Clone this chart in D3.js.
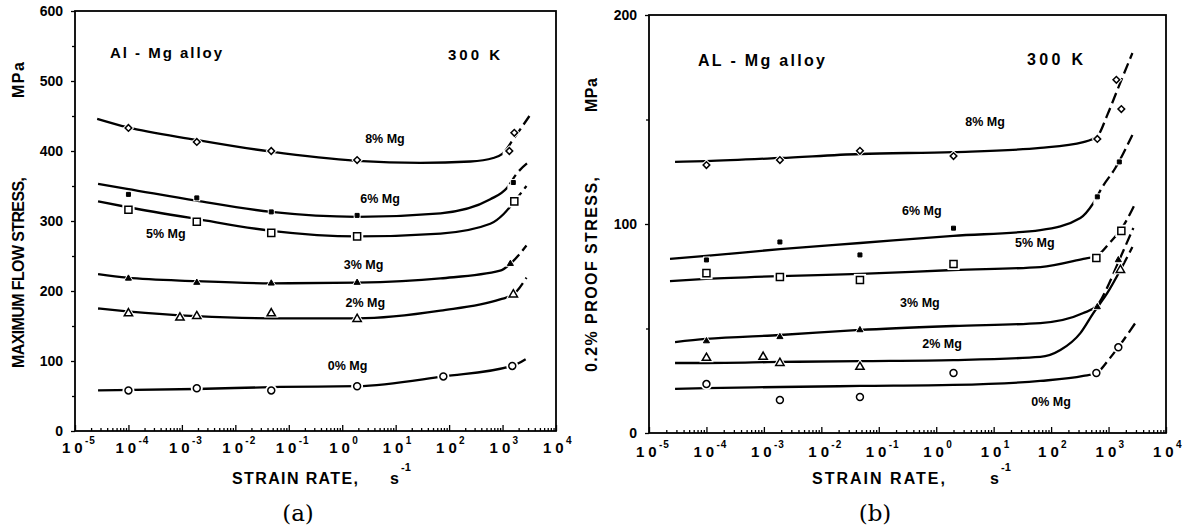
<!DOCTYPE html>
<html><head><meta charset="utf-8">
<script src="https://cdn.jsdelivr.net/npm/d3@7"></script>
<style>
body{margin:0;background:#fff;}
text{font-family:"Liberation Sans",Arial,Helvetica,sans-serif;font-weight:bold;fill:#000;}
.serif{font-family:"DejaVu Serif","Liberation Serif",serif;font-weight:normal;}
</style></head>
<body>
<script>
// ---------- DATA ----------
const decadeExponents = [-5,-4,-3,-2,-1,0,1,2,3,4];
const stressTicksA = [0,100,200,300,400,500,600];
const stressTicksB = [0,100,200];
const seriesNames = ["8% Mg","6% Mg","5% Mg","3% Mg","2% Mg","0% Mg"];

// Panel (a): maximum flow stress (MPa) vs strain rate (1/s)
const aCurve8 = [[2.6e-5,446],[9.4e-5,434],[1.85e-3,416],[4.7e-2,399],[1.9,386],[29,383],[250,385],[670,390],[990,396],[1660,419],[3180,450]];
const aCurve6 = [[2.7e-5,353],[9.4e-5,346],[1.85e-3,329],[4.7e-2,313],[1.9,306],[69,311],[590,331],[1230,348],[1810,367],[3180,385]];
const aCurve5 = [[2.7e-5,328],[9.4e-5,320],[1.85e-3,303],[4.7e-2,286],[1.9,278],[69,282],[590,296],[1050,310],[1660,328],[2800,350]];
const aCurve3 = [[2.7e-5,224],[9.4e-5,219],[1.85e-3,214],[4.7e-2,211],[1.9,212],[69,218],[900,229],[1400,239],[2800,265]];
const aCurve2 = [[2.7e-5,175],[9.4e-5,171],[1.85e-3,164],[5e-2,161],[1.9,161],[69,172],[900,188],[1590,195],[2800,219]];
const aCurve0 = [[2.7e-5,58],[1.85e-3,60],[6.9e-2,63],[1.9,64],[78,78],[1520,93],[3040,105]];

const aPoints8 = [[1e-4,433],[1.9e-3,413],[4.7e-2,400],[1.9,387],[1340,400],[1660,426]];
const aPoints6 = [[1e-4,338],[1.9e-3,333],[4.7e-2,313],[1.9,308],[1590,355]];
const aPoints5 = [[1e-4,316],[1.9e-3,299],[4.7e-2,283],[1.9,278],[1660,328]];
const aPoints3 = [[1e-4,218],[1.9e-3,212],[4.7e-2,211],[1.9,212],[1400,239]];
const aPoints2 = [[1e-4,168],[9.2e-4,162],[1.9e-3,164],[4.7e-2,168],[1.9,160],[1590,195]];
const aPoints0 = [[1e-4,58],[1.9e-3,61],[4.7e-2,58],[1.9,64],[78,78],[1520,93]];

const aTailFrom = [1000,1230,1500,1300,1590,1520];
const aLabelAt = [[6.3,412],[5.1,326],[5e-4,276],[2.5,232],[2.7,177],[1.26,87]];

// Panel (b): 0.2% proof stress (MPa) vs strain rate (1/s)
const bCurve8 = [[2.84e-5,129.7],[9.8e-5,130.1],[1.91e-3,131.6],[4.74e-2,133.5],[1.98,134.4],[65,136.4],[364,139.2],[638,142.1],[953,152.2],[1422,164.1],[2600,181.8]];
const bCurve6 = [[2.32e-5,83.3],[9.8e-5,84.7],[1.91e-3,88.0],[4.74e-2,90.9],[1.98,94.3],[65,97.1],[323,102.9],[543,110.0],[780,117.7],[1313,126.8],[2600,142.6]];
const bCurve5 = [[2.32e-5,72.7],[9.8e-5,73.7],[1.91e-3,75.1],[4.74e-2,76.1],[1.98,78.0],[65,79.4],[364,83.3],[613,84.7],[1075,91.4],[1670,97.6],[2930,110.0]];
const bCurve3 = [[2.84e-5,43.5],[9.8e-5,45.0],[1.91e-3,46.9],[4.74e-2,49.3],[1.98,51.2],[65,52.6],[364,57.4],[638,61.2],[993,70.8],[1483,81.8],[2705,98.1]];
const bCurve2 = [[2.84e-5,33.5],[9.8e-5,33.5],[1.91e-3,34.0],[4.74e-2,34.4],[1.98,34.9],[65,36.4],[145,39.7],[323,47.8],[543,57.4],[953,67.0],[1607,78.0],[2600,89.0]];
const bCurve0 = [[2.84e-5,21.1],[9.8e-5,21.5],[1.91e-3,22.0],[4.74e-2,22.5],[1.98,23.0],[65,24.9],[364,27.3],[613,28.7],[993,34.9],[1483,41.1],[3180,54.1]];

const bPoints8 = [[1e-4,128.2],[1.9e-3,130.6],[4.7e-2,135],[2,132.5],[638,140.7],[1368,169],[1670,155]];
const bPoints6 = [[1e-4,82.8],[1.9e-3,91.4],[4.7e-2,85.2],[2,98],[638,113],[1540,129.7]];
const bPoints5 = [[1e-4,76.5],[1.9e-3,74.6],[4.7e-2,73.2],[2,80.9],[613,83.7],[1670,96.7]];
const bPoints3 = [[1e-4,44],[1.9e-3,46],[4.7e-2,49.3],[638,60.3],[1480,82.8]];
const bPoints2 = [[1e-4,35.9],[9.7e-4,36.4],[1.9e-3,33.5],[4.7e-2,31.6],[1610,78]];
const bPoints0 = [[1e-4,23.4],[1.9e-3,15.8],[4.7e-2,17.2],[2,28.7],[613,28.7],[1480,41]];

const bTailFrom = [638,543,613,620,1600,613];
const bLabelAt = [[7.1,146.9],[0.56,104.3],[52,89],[0.52,60.3],[1.26,40.7],[100,12.9]];

// ---------- DRAWING ----------
const W = 1194, H = 529;
const svg = d3.select("body").append("svg").attr("width",W).attr("height",H);
const defs = svg.append("defs");
const markerKinds = ["diamond","filledSquare","square","filledTriangle","triangle","circle"];
// [symbol type, area, filled, rotation]
const symbolFor = {
  diamond:[d3.symbolSquare,22,false,45],
  filledSquare:[d3.symbolSquare,16,true,0],
  square:[d3.symbolSquare,50,false,0],
  filledTriangle:[d3.symbolTriangle,16,true,0],
  triangle:[d3.symbolTriangle,30,false,0],
  circle:[d3.symbolCircle,38,false,0]
};
let clipId = 0;

// length along a path where it reaches horizontal position xt
function lengthAtX(node, xt){
  let lo = 0, hi = node.getTotalLength();
  for(let k=0;k<40;k++){const mid=(lo+hi)/2; if(node.getPointAtLength(mid).x < xt) lo=mid; else hi=mid;}
  return lo;
}

function drawPanel(cfg){
  const x = d3.scaleLog().domain([1e-5,1e4]).range([cfg.x0,cfg.x1]);
  const y = d3.scaleLinear().domain([0,cfg.ymax]).range([cfg.y0,cfg.y1]);
  const g = svg.append("g");

  const minors = [];
  decadeExponents.slice(0,-1).forEach(e=>{for(let k=2;k<=9;k++) minors.push(k*Math.pow(10,e));});
  const majors = decadeExponents.map(e=>Math.pow(10,e));
  const xMinor = g.append("g").attr("transform",`translate(0,${cfg.y0})`)
    .call(d3.axisBottom(x).tickValues(minors).tickSize(-3).tickFormat(""));
  const xMajor = g.append("g").attr("transform",`translate(0,${cfg.y0})`)
    .call(d3.axisBottom(x).tickValues(majors).tickSize(-6).tickFormat(""));
  [xMinor,xMajor].forEach(a=>{a.select(".domain").remove();a.selectAll("line").attr("stroke","#000").attr("stroke-width",1.3);});

  const yMinor = d3.range(50,cfg.ymax,100);
  const ya = g.append("g").attr("transform",`translate(${cfg.x0},0)`)
    .call(d3.axisLeft(y).tickValues(cfg.yTicks).tickSize(4).tickPadding(8).tickFormat(d3.format("d")));
  ya.select(".domain").remove();
  ya.selectAll("line").attr("stroke","#000").attr("stroke-width",1.3);
  ya.selectAll("text").style("font-size","14px").style("font-family","'Liberation Sans',Arial,sans-serif").style("font-weight","bold");
  const yb = g.append("g").attr("transform",`translate(${cfg.x0},0)`)
    .call(d3.axisLeft(y).tickValues(yMinor).tickSize(3).tickFormat(""));
  yb.select(".domain").remove();
  yb.selectAll("line").attr("stroke","#000").attr("stroke-width",1.3);

  g.append("rect").attr("x",cfg.x0).attr("y",y(cfg.ymax)).attr("width",cfg.x1-cfg.x0)
    .attr("height",cfg.y0-y(cfg.ymax)).attr("fill","none").attr("stroke","#000").attr("stroke-width",1.8);

  decadeExponents.forEach(e=>{
    const px = x(Math.pow(10,e));
    g.append("text").attr("x",px-13).attr("y",cfg.tickBase).style("font-size","15px").style("letter-spacing","4px").text("10");
    g.append("text").attr("x",px+10).attr("y",cfg.tickBase-9).style("font-size","10px").style("letter-spacing","1px").text(e<0?"-"+Math.abs(e):String(e));
  });

  const line = d3.line().x(d=>x(d[0])).y(d=>y(d[1])).curve(d3.curveMonotoneX);
  cfg.curves.forEach((c,i)=>{
    const xt = x(cfg.tails[i]);
    const id1 = "c"+(clipId++), id2 = "c"+(clipId++);
    defs.append("clipPath").attr("id",id1).append("rect").attr("x",0).attr("y",0).attr("width",xt).attr("height",H);
    defs.append("clipPath").attr("id",id2).append("rect").attr("x",xt).attr("y",0).attr("width",W-xt).attr("height",H);
    g.append("path").attr("d",line(c)).attr("fill","none").attr("stroke","#000").attr("stroke-width",2.3).attr("clip-path",`url(#${id1})`);
    const dashed = g.append("path").attr("d",line(c)).attr("fill","none").attr("stroke","#000").attr("stroke-width",2.3)
      .attr("stroke-dasharray","11,5").attr("clip-path",`url(#${id2})`);
    const L = lengthAtX(dashed.node(), xt);
    dashed.attr("stroke-dashoffset", -(L+4));
  });

  cfg.points.forEach((pts,i)=>{
    const [type,size,filled,rot] = symbolFor[markerKinds[i]];
    const sym = d3.symbol().type(type).size(size);
    g.selectAll(null).data(pts).join("path")
      .attr("transform",d=>`translate(${x(d[0])},${y(d[1])}) rotate(${rot})`)
      .attr("d",d3.symbol().type(type).size(size*3)).attr("fill","#fff").attr("stroke","none");
    g.selectAll(null).data(pts).join("path")
      .attr("transform",d=>`translate(${x(d[0])},${y(d[1])}) rotate(${rot})`)
      .attr("d",sym).attr("fill",filled?"#000":"#fff").attr("stroke","#000").attr("stroke-width",filled?1:1.5);
  });

  cfg.labels.forEach((p,i)=>{
    g.append("text").attr("x",x(p[0])).attr("y",y(p[1])).attr("text-anchor","middle")
      .style("font-size","12.5px").text(seriesNames[i]);
  });
  return {x,y,g};
}

drawPanel({x0:75,x1:556,y0:431,y1:11,ymax:600,yTicks:stressTicksA,tickBase:453,
  curves:[aCurve8,aCurve6,aCurve5,aCurve3,aCurve2,aCurve0],
  points:[aPoints8,aPoints6,aPoints5,aPoints3,aPoints2,aPoints0],
  tails:aTailFrom,labels:aLabelAt});
drawPanel({x0:649,x1:1166,y0:433,y1:15,ymax:200,yTicks:stressTicksB,tickBase:457,
  curves:[bCurve8,bCurve6,bCurve5,bCurve3,bCurve2,bCurve0],
  points:[bPoints8,bPoints6,bPoints5,bPoints3,bPoints2,bPoints0],
  tails:bTailFrom,labels:bLabelAt});

function t(x,y,s,size,len){const e=svg.append("text").attr("x",x).attr("y",y).style("font-size",size+"px").text(s);
  if(len) e.attr("textLength",len).attr("lengthAdjust","spacing"); return e;}
t(110,58,"Al - Mg alloy",15,112);
t(448,60,"300 K",15,52);
t(698,66,"AL - Mg alloy",16,127);
t(1027,65,"300 K",16,56);

function vt(x,y,s,len){svg.append("text").attr("transform",`translate(${x},${y}) rotate(-90)`)
  .style("font-size","16px").attr("textLength",len).attr("lengthAdjust","spacing").text(s);}
vt(24,368,"MAXIMUM FLOW STRESS,",191);
vt(24,98,"MPa",36);
vt(597,372,"0.2% PROOF STRESS,",195);
vt(597,112,"MPa",34);

t(232,484,"STRAIN RATE,",16,126);
t(390,484,"s",16);
t(401,471,"-1",11);
t(812,484,"STRAIN RATE,",16,133);
t(990,484,"s",16);
t(1001,471,"-1",11);

svg.append("text").attr("class","serif").attr("x",298).attr("y",521).attr("text-anchor","middle").style("font-size","23px").text("(a)");
svg.append("text").attr("class","serif").attr("x",875).attr("y",521).attr("text-anchor","middle").style("font-size","23px").text("(b)");
</script>
</body></html>
